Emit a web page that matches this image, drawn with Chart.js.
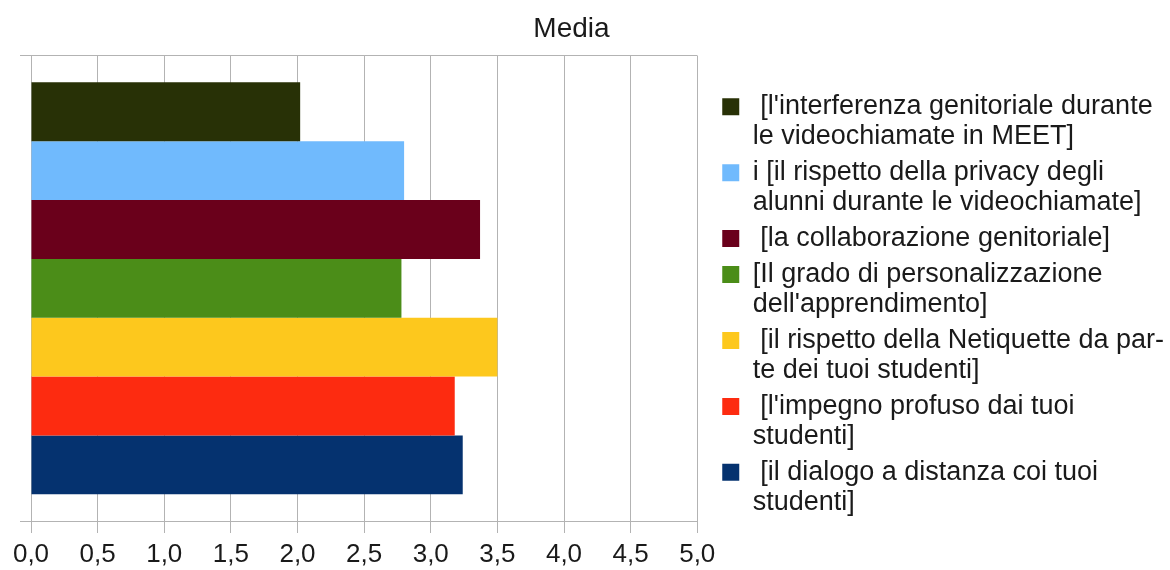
<!DOCTYPE html>
<html>
<head>
<meta charset="utf-8">
<script src="https://cdn.jsdelivr.net/npm/chart.js@4.4.0/dist/chart.umd.min.js"></script>
<style>
  html, body { margin: 0; padding: 0; background: #fff; }
  #wrap { width: 1170px; height: 570px; }
</style>
</head>
<body>
<div id="wrap"><canvas id="chartMedia"></canvas></div>
<script>
// Media delle risposte, una serie per voce
const categories = [''];
const seriesNames = [
    [" [l'interferenza genitoriale durante", 'le videochiamate in MEET]'],
    ['i [il rispetto della privacy degli', 'alunni durante le videochiamate]'],
    [' [la collaborazione genitoriale]'],
    ['[Il grado di personalizzazione', "dell'apprendimento]"],
    [' [il rispetto della Netiquette da par-', 'te dei tuoi studenti]'],
    [" [l'impegno profuso dai tuoi", 'studenti]'],
    [' [il dialogo a distanza coi tuoi', 'studenti]']
];
const seriesValues = [2.02, 2.80, 3.37, 2.78, 3.50, 3.18, 3.24];
const seriesColors = ['#283106', '#70bafd', '#6a001b', '#4b8d18', '#fdc81d', '#fd2b10', '#05326f'];
const tickLabels = ['0,0', '0,5', '1,0', '1,5', '2,0', '2,5', '3,0', '3,5', '4,0', '4,5', '5,0'];

Chart.defaults.font.family = "'Liberation Sans', Arial, sans-serif";
Chart.defaults.color = '#1a1a1a';

// legenda su piu' righe: Chart.js la limita in larghezza, la allargo a mano
const legendShift = {
    id: 'legendShift',
    afterLayout(chart) {
        const lg = chart.legend;
        lg.left = chart.chartArea.right + 19;
        lg.right = chart.width;
        lg.width = lg.right - lg.left;
        lg.top += 21;
        lg.bottom += 21;
        chart.titleBlock.left += 100;
        chart.titleBlock.right += 100;
    }
};

const ctxMedia = document.getElementById('chartMedia');
new Chart(ctxMedia, {
    type: 'bar',
    data: {
        labels: categories,
        datasets: seriesNames.map((name, i) => ({
            label: name,
            data: [seriesValues[i]],
            backgroundColor: seriesColors[i],
            borderWidth: 0,
            categoryPercentage: 0.885,
            barPercentage: 1
        }))
    },
    options: {
        indexAxis: 'y',
        responsive: true,
        maintainAspectRatio: false,
        animation: false,
        layout: {
            padding: { left: 20, right: 247, top: 0, bottom: 0 }
        },
        plugins: {
            title: {
                display: true,
                text: 'Media',
                font: { size: 28, weight: 'normal' },
                padding: { top: 12, bottom: 10 }
            },
            legend: {
                position: 'right',
                labels: {
                    boxWidth: 17,
                    boxHeight: 17,
                    padding: 6,
                    font: { size: 27, lineHeight: 1.11 }
                }
            },
            tooltip: { enabled: false }
        },
        scales: {
            x: {
                min: 0,
                max: 5,
                ticks: {
                    stepSize: 0.5,
                    padding: 6,
                    font: { size: 26 },
                    callback: (v, i) => tickLabels[i]
                },
                grid: { color: '#b3b3b3', tickLength: 12 },
                border: { display: false },
                afterFit: (scale) => { scale.height = 49; }
            },
            y: {
                ticks: { padding: 0 },
                grid: { color: '#b3b3b3', tickLength: 11 },
                border: { display: false }
            }
        }
    },
    plugins: [legendShift]
});
</script>
</body>
</html>
